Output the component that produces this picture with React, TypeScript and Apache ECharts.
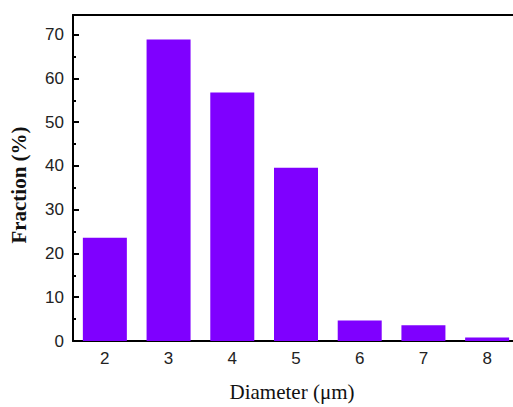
import React, { useEffect, useRef } from "react";
import * as echarts from "echarts";

const categories = ["2", "3", "4", "5", "6", "7", "8"];
const fractionValues = [23.6, 68.9, 56.8, 39.6, 4.7, 3.6, 0.8];
const yTickValues = [0, 10, 20, 30, 40, 50, 60, 70];

export default function App() {
  const ref = useRef<HTMLDivElement>(null);
  useEffect(() => {
    if (!ref.current) return;
    const chart = echarts.init(ref.current, null, { renderer: "svg" });
    chart.setOption({
      animation: false,
      backgroundColor: "#ffffff",
      grid: { left: 71, right: 1, top: 15, bottom: 61, containLabel: false },
      xAxis: [
        {
          type: "category",
          data: categories,
          position: "bottom",
          name: "Diameter (\u03bcm)",
          nameLocation: "middle",
          nameGap: 40,
          nameTextStyle: { fontFamily: "Liberation Serif", fontSize: 21, color: "#111", padding: [0, 0, 0, -8] },
          axisLine: { show: true, lineStyle: { color: "#000", width: 2 } },
          axisTick: { show: false },
          axisLabel: { fontFamily: "Liberation Sans", fontSize: 17, color: "#222", margin: 9 },
          splitLine: { show: false },
        },
        {
          type: "category",
          data: categories,
          position: "top",
          axisLine: { show: true, lineStyle: { color: "#000", width: 2 } },
          axisTick: { show: false },
          axisLabel: { show: false },
          splitLine: { show: false },
        },
      ],
      yAxis: {
        type: "value",
        min: 0,
        max: 74.5,
        interval: 10,
        name: "Fraction (%)",
        nameLocation: "middle",
        nameGap: 44,
        nameTextStyle: { fontFamily: "Liberation Serif", fontSize: 21, fontWeight: "bold", color: "#111", padding: [0, 0, 0, -14] },
        axisLine: { show: true, lineStyle: { color: "#000", width: 2 } },
        axisTick: { show: true, inside: true, length: 6, lineStyle: { color: "#000", width: 2 } },
        minorTick: { show: true, splitNumber: 2, length: 3, lineStyle: { color: "#000", width: 2 } },
        axisLabel: {
          fontFamily: "Liberation Sans",
          fontSize: 17,
          color: "#222",
          margin: 9,
          showMaxLabel: false,
          formatter: (v: number) => (yTickValues.indexOf(v) >= 0 ? String(v) : ""),
        },
        splitLine: { show: false },
      },
      series: [
        {
          type: "bar",
          data: fractionValues,
          barWidth: 44,
          itemStyle: { color: "#7f00ff" },
        },
      ],
    });
    return () => chart.dispose();
  }, []);
  return (
    <div
      style={{ position: "fixed", left: 0, top: 0, width: 513, height: 407, overflow: "hidden", background: "#fff" }}
    >
      <div ref={ref} style={{ width: 520, height: 407 }} />
    </div>
  );
}
